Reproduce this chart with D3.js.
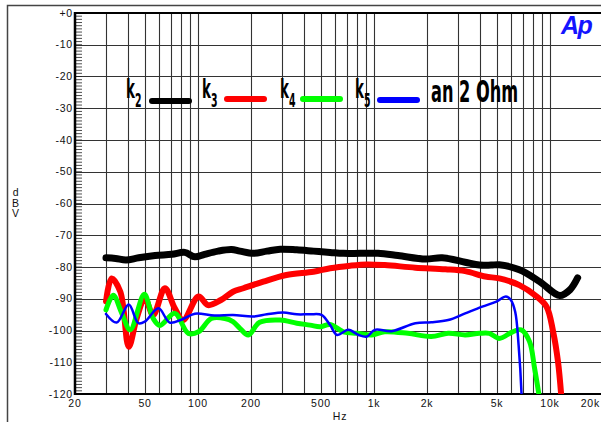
<!DOCTYPE html>
<html>
<head>
<meta charset="utf-8">
<script src="https://cdn.jsdelivr.net/npm/d3@7"></script>
<style>
  html, body { margin: 0; padding: 0; background: #fff; }
  svg { display: block; }
  .tick-label { font-family: "Liberation Sans", Arial, sans-serif; font-size: 10.5px; fill: #111; letter-spacing: 0.8px; }
  .legend-text { font-family: "DejaVu Sans Condensed", "DejaVu Sans", sans-serif; font-weight: bold; fill: #000; }
</style>
</head>
<body>
<div id="chart"></div>
<script>
// ------------------------------------------------------
// DATA
// ------------------------------------------------------

var xTicks = [20, 50, 100, 200, 500, 1000, 2000, 5000, 10000, 20000];
var xTickLabels = ["20", "50", "100", "200", "500", "1k", "2k", "5k", "10k", "20k"];
var yTicks = [0, -10, -20, -30, -40, -50, -60, -70, -80, -90, -100, -110, -120];
var yTickLabels = ["+0", "-10", "-20", "-30", "-40", "-50", "-60", "-70", "-80", "-90", "-100", "-110", "-120"];

var seriesNames = ["2", "3", "4", "5"];   // subscripts of k
var seriesColors = ["#000000", "#ff0000", "#00ff00", "#0000ff"];
var legendNote = "an 2 Ohm";

var k2Freq = [30, 34, 39, 46, 57, 71, 84, 96, 109, 130, 155, 173, 206, 246, 293, 364, 453, 563, 670, 833, 1053, 1369, 1959, 2440, 3295, 3970, 4623, 5150, 6700, 8730, 11370, 12970, 14350];
var k2Db = [-77.1, -77.3, -77.8, -77.1, -76.4, -76.0, -75.4, -76.8, -76.0, -75.0, -74.5, -75.0, -75.7, -75.0, -74.4, -74.6, -75.0, -75.4, -75.7, -75.7, -75.7, -76.4, -77.5, -77.1, -78.5, -79.4, -79.4, -79.3, -80.9, -84.6, -89.0, -87.2, -83.4];

var k3Freq = [30, 32.3, 36.2, 40.4, 44.8, 49.9, 55.6, 64.8, 73.8, 82.3, 100.6, 114, 135, 158, 181, 235, 318, 453, 563, 732, 910, 1151, 1717, 2550, 3295, 4290, 5150, 6700, 8400, 9560, 10420, 11100, 11600];
var k3Db = [-90.9, -83.6, -87.8, -105.1, -96.2, -89.9, -95.1, -86.7, -93.0, -96.7, -89.3, -92.0, -90.4, -87.8, -86.7, -84.6, -82.5, -81.5, -80.4, -79.6, -79.2, -79.4, -80.2, -80.7, -81.3, -83.0, -83.6, -85.7, -89.3, -92.5, -100.4, -109.8, -121];

var k4Freq = [30, 33, 36.9, 41.2, 49.5, 55.6, 60.8, 73.8, 88.1, 100.6, 119, 142, 158, 173, 193, 224, 293, 364, 433, 494, 563, 670, 799, 970, 1151, 1558, 2115, 2640, 3295, 3970, 4520, 5150, 6130, 6860, 7650, 8170, 8700];
var k4Db = [-93.5, -88.9, -94.6, -99.8, -88.6, -96.2, -98.4, -94.6, -100.9, -100.4, -96.2, -96.2, -97.2, -99.3, -101.4, -97.4, -96.7, -97.7, -98.3, -98.8, -98.1, -100.4, -100.9, -101.4, -100.4, -100.9, -101.9, -100.9, -101.4, -100.9, -100.9, -102.5, -100.4, -99.8, -103.5, -111.9, -121];

var k5Freq = [30, 34.5, 40.4, 45.8, 49.9, 59.6, 69, 80.4, 95.9, 124, 158, 206, 246, 305, 364, 433, 503, 563, 616, 716, 817, 910, 1011, 1259, 1717, 2115, 2640, 3295, 4120, 4960, 5620, 5990, 6340, 6630, 6900];
var k5Db = [-94.8, -97.5, -91.8, -97.7, -97.2, -93.0, -97.5, -96.6, -94.7, -95.3, -95.1, -95.6, -94.9, -94.3, -94.9, -94.9, -95.1, -98.3, -101.4, -99.8, -101.4, -101.9, -99.8, -100.2, -97.7, -97.4, -96.7, -94.6, -92.5, -90.9, -89.3, -90.4, -94.1, -104.6, -121];

var seriesFreq = [k2Freq, k3Freq, k4Freq, k5Freq];
var seriesDb = [k2Db, k3Db, k4Db, k5Db];

// ------------------------------------------------------
// LAYOUT
// ------------------------------------------------------

var width = 601, height = 422;
var plot = { left: 75, top: 13, right: 603, bottom: 394 };
var lineWidths = [7, 6, 5, 2.5];

var svg = d3.select("#chart").append("svg")
    .attr("width", width)
    .attr("height", height);

var x = d3.scaleLog().domain([20, 20000]).range([plot.left, plot.right]);
var y = d3.scaleLinear().domain([0, -120]).range([plot.top, plot.bottom]);

// outer frame
svg.append("path")
    .attr("d", "M7.5," + height + "V5.5H" + width)
    .attr("fill", "none")
    .attr("stroke", "#444")
    .attr("stroke-width", 1.5);

// ------------------------------------------------------
// GRID
// ------------------------------------------------------

var gridFreqs = [];
[10, 100, 1000].forEach(function (dec) {
    for (var m = 1; m <= 9; m++) {
        var f = dec * m;
        if (f > 20 && f <= 10000) gridFreqs.push(f);
    }
});
gridFreqs.push(10000);

var grid = svg.append("g");
grid.selectAll("line.v")
    .data(gridFreqs)
    .enter().append("line")
    .attr("x1", function (d) { return Math.round(x(d)) + 0.5; })
    .attr("x2", function (d) { return Math.round(x(d)) + 0.5; })
    .attr("y1", plot.top)
    .attr("y2", plot.bottom)
    .attr("stroke", "#333")
    .attr("stroke-width", 1.1);

grid.selectAll("line.h")
    .data(yTicks.slice(1, -1))
    .enter().append("line")
    .attr("x1", plot.left)
    .attr("x2", width)
    .attr("y1", function (d) { return Math.round(y(d)) + 0.5; })
    .attr("y2", function (d) { return Math.round(y(d)) + 0.5; })
    .attr("stroke", "#333")
    .attr("stroke-width", 1.2);

// minor y ticks every 1 dB
grid.selectAll("line.minor")
    .data(d3.range(0, -121, -1))
    .enter().append("line")
    .attr("x1", plot.left)
    .attr("x2", plot.left + 7)
    .attr("y1", function (d) { return y(d); })
    .attr("y2", function (d) { return y(d); })
    .attr("stroke", "#222")
    .attr("stroke-width", 0.8);

// plot border lines
svg.append("line").attr("x1", plot.left).attr("x2", width).attr("y1", plot.top).attr("y2", plot.top)
    .attr("stroke", "#000").attr("stroke-width", 2);
svg.append("line").attr("x1", plot.left).attr("x2", width).attr("y1", plot.bottom).attr("y2", plot.bottom)
    .attr("stroke", "#000").attr("stroke-width", 2);
svg.append("line").attr("x1", plot.left).attr("x2", plot.left).attr("y1", plot.top - 1).attr("y2", plot.bottom + 1)
    .attr("stroke", "#000").attr("stroke-width", 2.5);

// ------------------------------------------------------
// AXIS LABELS
// ------------------------------------------------------

svg.selectAll("text.ylab")
    .data(yTicks)
    .enter().append("text")
    .attr("class", "tick-label")
    .attr("x", plot.left - 2)
    .attr("y", function (d) { return y(d) + 3.5; })
    .attr("text-anchor", "end")
    .text(function (d, i) { return yTickLabels[i]; });

// last label (20k) sits at the cut right edge: keep it inside the picture
svg.selectAll("text.xlab")
    .data(xTicks)
    .enter().append("text")
    .attr("class", "tick-label")
    .attr("x", function (d, i) { return i === xTicks.length - 1 ? width - 1 : x(d); })
    .attr("y", plot.bottom + 13)
    .attr("text-anchor", function (d, i) { return i === xTicks.length - 1 ? "end" : "middle"; })
    .text(function (d, i) { return xTickLabels[i]; });

svg.append("text")
    .attr("class", "tick-label")
    .attr("x", 340)
    .attr("y", 420)
    .attr("text-anchor", "middle")
    .text("Hz");

["d", "B", "V"].forEach(function (c, i) {
    svg.append("text")
        .attr("class", "tick-label")
        .attr("x", 16)
        .attr("y", 196 + i * 10.5)
        .attr("text-anchor", "middle")
        .text(c);
});

// Ap logo
svg.append("text")
    .attr("x", 561)
    .attr("y", 34)
    .attr("font-family", "Liberation Sans, Arial, sans-serif")
    .attr("font-weight", "bold")
    .attr("font-style", "italic")
    .attr("font-size", 25)
    .attr("letter-spacing", -1.5)
    .attr("fill", "#1414ff")
    .text("Ap");

// ------------------------------------------------------
// CURVES
// ------------------------------------------------------

svg.append("clipPath").attr("id", "plotClip")
    .append("rect")
    .attr("x", plot.left)
    .attr("y", plot.top)
    .attr("width", plot.right - plot.left)
    .attr("height", plot.bottom - plot.top);

var line = d3.line()
    .x(function (d) { return x(d[0]); })
    .y(function (d) { return y(d[1]); })
    .curve(d3.curveCatmullRom.alpha(0.5));

var curves = svg.append("g").attr("clip-path", "url(#plotClip)");
seriesFreq.forEach(function (freqs, i) {
    var pts = freqs.map(function (f, j) { return [f, seriesDb[i][j]]; });
    curves.append("path")
        .datum(pts)
        .attr("d", line)
        .attr("fill", "none")
        .attr("stroke", seriesColors[i])
        .attr("stroke-width", lineWidths[i])
        .attr("stroke-linejoin", "round")
        .attr("stroke-linecap", "round");
});

// ------------------------------------------------------
// LEGEND
// ------------------------------------------------------

var legendX = [126, 202, 280, 355];
var legendSwatchX = [152, 227, 303, 380];
var legendSwatchY = [101, 99, 99, 100];
var squeeze = 0.55;

seriesNames.forEach(function (s, i) {
    var t = svg.append("text")
        .attr("class", "legend-text")
        .attr("transform", "translate(" + legendX[i] + ",98) scale(" + squeeze + ",1)");
    t.append("tspan").attr("font-size", 27).text("k");
    t.append("tspan").attr("font-size", 19).attr("dy", 9).text(s);

    svg.append("line")
        .attr("x1", legendSwatchX[i])
        .attr("x2", legendSwatchX[i] + 37)
        .attr("y1", legendSwatchY[i])
        .attr("y2", legendSwatchY[i])
        .attr("stroke", seriesColors[i])
        .attr("stroke-width", 6)
        .attr("stroke-linecap", "round");
});

svg.append("text")
    .attr("class", "legend-text")
    .attr("transform", "translate(431,102) scale(0.6,1)")
    .attr("font-size", 30)
    .text(legendNote);
</script>
</body>
</html>
